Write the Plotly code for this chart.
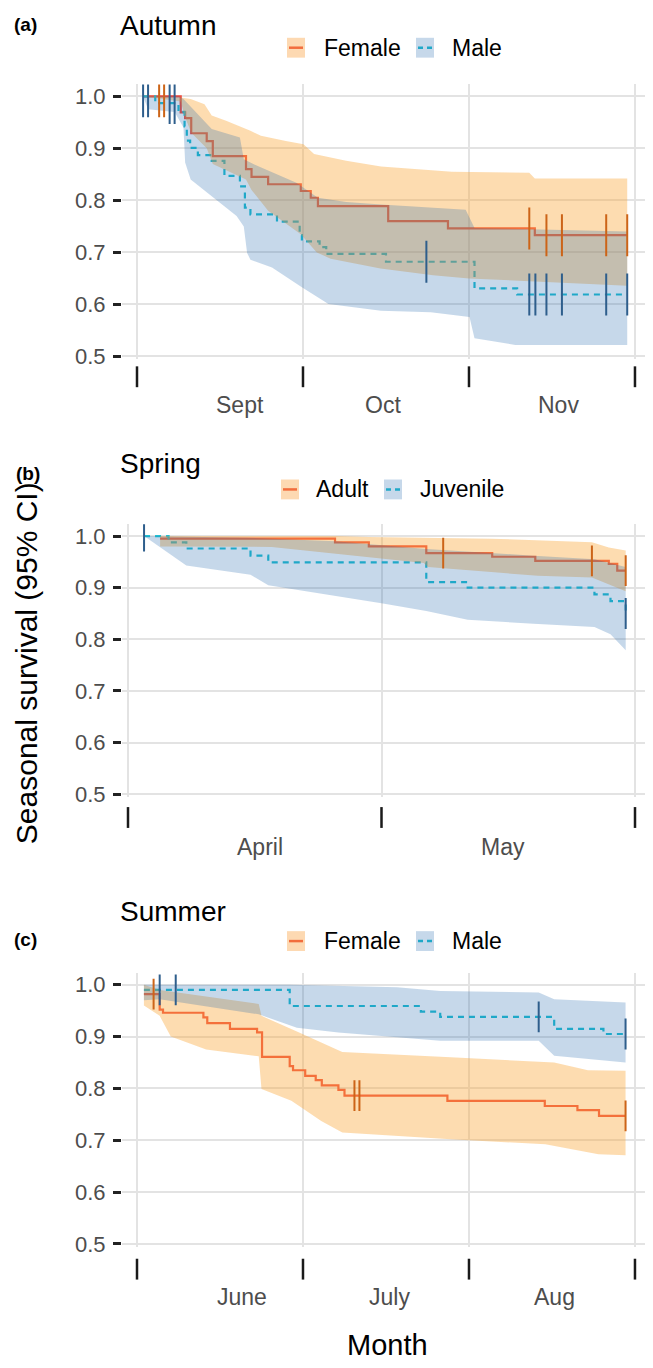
import plotly.graph_objects as go

# the page body has an 8px margin: the figure is offset by it
OFF = 8
W, H = 653 - OFF, 1368 - OFF

# ---------------- DATA ----------------
# (a) Autumn  - x in days from 1 Sept
aut_grid = [0, 30, 60, 90]
aut_months = ["Sept", "Oct", "Nov"]
aut_month_pos = [18.7, 44.4, 76.2]
aut_legend = ["Female", "Male"]
aut_f_t = [1.1, 7.9, 8.7, 9.8, 12.6, 13.7, 19.7, 20.7, 23.7, 29.6, 31.4, 32.7, 45.4, 56.2, 71.9, 88.6]
aut_f_s = [1.0, 0.969, 0.958, 0.929, 0.914, 0.885, 0.860, 0.845, 0.831, 0.818, 0.805, 0.789, 0.760, 0.746, 0.733, 0.733]
aut_m_t = [1.1, 3.3, 7.5, 8.6, 9.0, 9.6, 11.0, 13.5, 15.8, 18.6, 19.5, 20.5, 25.3, 29.4, 29.8, 33.0, 34.2, 45.0, 61.0, 68.7, 88.6]
aut_m_s = [1.0, 0.987, 0.970, 0.942, 0.915, 0.901, 0.887, 0.876, 0.847, 0.827, 0.786, 0.773, 0.759, 0.733, 0.721, 0.710, 0.697, 0.682, 0.631, 0.619, 0.619]
aut_f_up_t = [1.1, 7.9, 9.7, 12.2, 13.5, 16.1, 20.5, 22.4, 26.9, 30.1, 32.0, 37.8, 44.1, 50.5, 56.9, 70.9, 71.9, 88.6]
aut_f_up = [1.0, 0.998, 0.995, 0.985, 0.963, 0.953, 0.934, 0.924, 0.914, 0.908, 0.889, 0.876, 0.865, 0.860, 0.855, 0.853, 0.842, 0.842]
aut_f_lo_t = [1.1, 7.9, 8.7, 9.8, 12.6, 13.7, 19.7, 20.7, 23.7, 29.6, 32.5, 35.0, 44.0, 53.5, 60.0, 88.6]
aut_f_lo = [1.0, 0.990, 0.960, 0.930, 0.900, 0.870, 0.840, 0.820, 0.780, 0.735, 0.700, 0.688, 0.669, 0.656, 0.650, 0.636]
aut_m_up_t = [1.1, 7.5, 8.4, 13.5, 18.6, 19.3, 21.2, 28.8, 32.7, 37.8, 44.1, 59.4, 61.0, 88.6]
aut_m_up = [1.0, 1.0, 0.995, 0.937, 0.921, 0.879, 0.869, 0.834, 0.805, 0.797, 0.792, 0.782, 0.747, 0.740]
aut_m_lo_t = [1.1, 2.0, 6.8, 8.4, 8.7, 9.7, 13.5, 18.0, 19.3, 19.9, 20.5, 24.4, 29.8, 34.6, 44.1, 53.1, 60.1, 61.0, 68.4, 88.6]
aut_m_lo = [1.0, 0.975, 0.970, 0.940, 0.873, 0.840, 0.808, 0.770, 0.750, 0.699, 0.686, 0.671, 0.633, 0.601, 0.588, 0.585, 0.576, 0.535, 0.522, 0.522]
aut_f_cens_t = [4.0, 4.9, 70.9, 74.0, 76.8, 84.8, 88.6]
aut_f_cens_s = [1.0, 1.0, 0.746, 0.733, 0.733, 0.733, 0.733]
aut_m_cens_t = [1.1, 2.0, 5.9, 6.8, 52.3, 70.9, 72.0, 74.0, 76.8, 84.8, 88.6]
aut_m_cens_s = [1.0, 1.0, 0.987, 0.987, 0.682, 0.619, 0.619, 0.619, 0.619, 0.619, 0.619]

# (b) Spring - x in days from 1 April
spr_grid = [0, 30, 60]
spr_months = ["April", "May"]
spr_month_pos = [15.6, 44.4]
spr_legend = ["Adult", "Juvenile"]
spr_a_t = [3.8, 24.5, 28.5, 35.3, 43.1, 48.2, 56.9, 57.9, 58.9]
spr_a_s = [0.995, 0.988, 0.980, 0.967, 0.960, 0.952, 0.946, 0.933, 0.933]
spr_j_t = [1.9, 4.8, 6.9, 14.5, 16.6, 35.3, 40.2, 55.2, 57.1, 58.9]
spr_j_s = [1.0, 0.988, 0.976, 0.962, 0.949, 0.911, 0.900, 0.887, 0.874, 0.850]
spr_a_up_t = [3.8, 24.5, 28.5, 43.0, 54.9, 56.9, 58.9]
spr_a_up = [1.0, 1.0, 0.998, 0.995, 0.988, 0.978, 0.972]
spr_a_lo_t = [3.8, 17.0, 35.0, 35.5, 48.5, 54.9, 58.9]
spr_a_lo = [0.980, 0.979, 0.948, 0.940, 0.923, 0.920, 0.893]
spr_j_up_t = [1.9, 14.0, 24.5, 35.3, 48.0, 55.2, 58.9]
spr_j_up = [1.0, 0.997, 0.990, 0.975, 0.962, 0.955, 0.940]
spr_j_lo_t = [1.9, 6.9, 14.5, 16.6, 30.0, 35.3, 40.2, 48.0, 55.2, 57.1, 58.9]
spr_j_lo = [1.0, 0.943, 0.925, 0.905, 0.870, 0.855, 0.838, 0.830, 0.824, 0.810, 0.779]
spr_a_cens_t = [37.3, 54.9, 58.9]
spr_a_cens_s = [0.967, 0.952, 0.933]
spr_j_cens_t = [1.9, 58.9]
spr_j_cens_s = [1.0, 0.850]

# (c) Summer - x in days from 1 June
sum_grid = [0, 30, 60, 90]
sum_months = ["June", "July", "Aug"]
sum_month_pos = [18.9, 45.6, 75.4]
sum_legend = ["Female", "Male"]
sum_f_t = [1.25, 4.1, 4.7, 12.0, 12.7, 16.8, 21.7, 22.6, 27.6, 28.2, 30.4, 32.3, 33.4, 36.4, 37.5, 56.1, 73.7, 79.6, 83.5, 88.3]
sum_f_s = [0.982, 0.952, 0.946, 0.937, 0.926, 0.915, 0.908, 0.861, 0.843, 0.835, 0.824, 0.816, 0.806, 0.797, 0.786, 0.776, 0.766, 0.758, 0.747, 0.747]
sum_m_t = [1.25, 27.6, 51.3, 54.8, 75.4, 84.3, 88.3]
sum_m_s = [0.990, 0.959, 0.948, 0.938, 0.915, 0.905, 0.905]
sum_f_up_t = [1.25, 4.1, 22.0, 22.5, 28.9, 37.1, 56.7, 75.4, 81.5, 88.3]
sum_f_up = [1.0, 0.990, 0.963, 0.940, 0.910, 0.870, 0.860, 0.850, 0.835, 0.834]
sum_f_lo_t = [1.25, 4.1, 6.1, 12.5, 22.0, 22.5, 27.9, 33.3, 37.1, 56.7, 73.8, 83.4, 88.3]
sum_f_lo = [0.960, 0.940, 0.900, 0.875, 0.862, 0.799, 0.776, 0.737, 0.715, 0.702, 0.692, 0.673, 0.671]
sum_m_up_t = [1.25, 27.6, 47.0, 54.8, 72.6, 75.4, 88.3]
sum_m_up = [1.0, 1.0, 0.995, 0.988, 0.985, 0.972, 0.966]
sum_m_lo_t = [1.25, 4.1, 22.0, 28.9, 36.4, 54.8, 72.6, 75.4, 88.3]
sum_m_lo = [0.970, 0.972, 0.943, 0.917, 0.908, 0.892, 0.892, 0.863, 0.850]
sum_f_cens_t = [3.0, 39.3, 40.2, 88.3]
sum_f_cens_s = [0.982, 0.786, 0.786, 0.747]
sum_m_cens_t = [4.1, 7.0, 72.6, 88.3]
sum_m_cens_s = [0.990, 0.990, 0.938, 0.905]

y_ticks = [0.5, 0.6, 0.7, 0.8, 0.9, 1.0]

# ---------------- STYLE ----------------
FONT = "Liberation Sans, Arial, sans-serif"
C_OR_LINE = "#F04B3D"
C_BL_LINE = "#20BFD2"
C_OR_FILL = "rgba(250,167,58,0.40)"
C_BL_FILL = "rgba(27,99,171,0.25)"
C_OR_CENS = "#CC6418"
C_BL_CENS = "#2E5E8C"
C_OR_KEY = "#FDD9B2"
C_BL_KEY = "#C6D8EA"
GRID = "#E3E3E3"


def py(p):
    return 1 - (p - OFF) / H


def pxx(p):
    return (p - OFF) / W


X_LEFT, X_RIGHT = 122, 653

panels = [
    dict(title="Autumn", tag="(a)", data=(aut_f_t, aut_f_s, aut_m_t, aut_m_s, aut_f_up_t, aut_f_up, aut_f_lo_t, aut_f_lo,
                                          aut_m_up_t, aut_m_up, aut_m_lo_t, aut_m_lo, aut_f_cens_t, aut_f_cens_s, aut_m_cens_t, aut_m_cens_s),
         grid=aut_grid, months=aut_months, mpos=aut_month_pos, legend=aut_legend,
         g0=137, gpx=5.533, p1=97, p05=359, top=85, bottom=362, censz=30,
         title_y=26, tag_y=25, tag_x=25, leg_y=48, leg_x=(287, 322, 416, 450), bar=(369, 390), month_y=408),
    dict(title="Spring", tag="(b)", data=(spr_a_t, spr_a_s, spr_j_t, spr_j_s, spr_a_up_t, spr_a_up, spr_a_lo_t, spr_a_lo,
                                          spr_j_up_t, spr_j_up, spr_j_lo_t, spr_j_lo, spr_a_cens_t, spr_a_cens_s, spr_j_cens_t, spr_j_cens_s),
         grid=spr_grid, months=spr_months, mpos=spr_month_pos, legend=spr_legend,
         g0=128, gpx=8.45, p1=540, p05=800, top=528, bottom=803, censz=22,
         title_y=467, tag_y=477, tag_x=28, leg_y=493, leg_x=(281, 314, 384, 418), bar=(813, 834), month_y=853),
    dict(title="Summer", tag="(c)", data=(sum_f_t, sum_f_s, sum_m_t, sum_m_s, sum_f_up_t, sum_f_up, sum_f_lo_t, sum_f_lo,
                                          sum_m_up_t, sum_m_up, sum_m_lo_t, sum_m_lo, sum_f_cens_t, sum_f_cens_s, sum_m_cens_t, sum_m_cens_s),
         grid=sum_grid, months=sum_months, mpos=sum_month_pos, legend=sum_legend,
         g0=137, gpx=5.533, p1=992, p05=1253, top=980, bottom=1256, censz=22,
         title_y=918, tag_y=946, tag_x=25, leg_y=948, leg_x=(287, 322, 416, 450), bar=(1268, 1289), month_y=1307),
]

fig = go.Figure()
shapes = []
annotations = []
layout_axes = {}

for i, p in enumerate(panels, start=1):
    xa = "x" if i == 1 else f"x{i}"
    ya = "y" if i == 1 else f"y{i}"
    (f_t, f_s, m_t, m_s, fu_t, fu, fl_t, fl, mu_t, mu, ml_t, ml, fc_t, fc_s, mc_t, mc_s) = p["data"]

    # step lines (drawn under the translucent ribbons)
    fig.add_trace(go.Scatter(x=f_t, y=f_s, mode="lines", line=dict(color=C_OR_LINE, width=2.2, shape="hv"),
                             xaxis=xa, yaxis=ya, hoverinfo="skip"))
    fig.add_trace(go.Scatter(x=m_t, y=m_s, mode="lines", line=dict(color=C_BL_LINE, width=2.2, shape="hv", dash="6px,5px"),
                             xaxis=xa, yaxis=ya, hoverinfo="skip"))
    # ribbons
    fig.add_trace(go.Scatter(x=fu_t + fl_t[::-1], y=fu + fl[::-1], mode="lines", fill="toself",
                             fillcolor=C_OR_FILL, line=dict(width=0), xaxis=xa, yaxis=ya, hoverinfo="skip"))
    fig.add_trace(go.Scatter(x=mu_t + ml_t[::-1], y=mu + ml[::-1], mode="lines", fill="toself",
                             fillcolor=C_BL_FILL, line=dict(width=0), xaxis=xa, yaxis=ya, hoverinfo="skip"))
    # censor marks
    fig.add_trace(go.Scatter(x=fc_t, y=fc_s, mode="markers",
                             marker=dict(symbol="line-ns", size=p["censz"], line=dict(width=2, color=C_OR_CENS)),
                             xaxis=xa, yaxis=ya, hoverinfo="skip"))
    fig.add_trace(go.Scatter(x=mc_t, y=mc_s, mode="markers",
                             marker=dict(symbol="line-ns", size=p["censz"], line=dict(width=2, color=C_BL_CENS)),
                             xaxis=xa, yaxis=ya, hoverinfo="skip"))

    ppu = (p["p05"] - p["p1"]) / 0.5
    y_top = 1 + (p["p1"] - p["top"]) / ppu
    y_bot = 1 - (p["bottom"] - p["p1"]) / ppu
    x_lo = (X_LEFT - p["g0"]) / p["gpx"]
    x_hi = (X_RIGHT - p["g0"]) / p["gpx"]

    xkey = "xaxis" if i == 1 else f"xaxis{i}"
    ykey = "yaxis" if i == 1 else f"yaxis{i}"
    layout_axes[xkey] = dict(domain=[pxx(X_LEFT), min(1.0, pxx(X_RIGHT))], range=[x_lo, x_hi], anchor=ya,
                             tickvals=p["grid"], showticklabels=False, ticks="", showgrid=True,
                             gridcolor=GRID, gridwidth=2, zeroline=False, showline=False, fixedrange=True)
    layout_axes[ykey] = dict(domain=[py(p["bottom"]), py(p["top"])], range=[y_bot, y_top], anchor=xa,
                             tickvals=y_ticks, ticktext=[f"{v:.1f}" for v in y_ticks],
                             tickfont=dict(family=FONT, size=22, color="#4D4D4D"),
                             ticks="outside", ticklen=8, tickwidth=2.5, tickcolor="#222222",
                             ticklabelstandoff=3,
                             showgrid=True, gridcolor=GRID, gridwidth=2, zeroline=False, showline=False,
                             fixedrange=True)

    # "|" month-boundary marks below the panel
    for g in p["grid"]:
        shapes.append(dict(type="line", xref=xa, yref="paper", x0=g, x1=g,
                           y0=py(p["bar"][0]), y1=py(p["bar"][1]), line=dict(color="#1A1A1A", width=2.5)))
    # month labels
    for name, pos in zip(p["months"], p["mpos"]):
        annotations.append(dict(text=name, xref=xa, yref="paper", x=pos, y=py(p["month_y"]),
                                showarrow=False, xanchor="center", yanchor="middle",
                                font=dict(family=FONT, size=23, color="#4D4D4D")))
    # panel title and tag
    annotations.append(dict(text=p["title"], xref="paper", yref="paper", x=pxx(119), y=py(p["title_y"]),
                            showarrow=False, xanchor="left", yanchor="middle", borderpad=0,
                            font=dict(family=FONT, size=28, color="#000000")))
    annotations.append(dict(text="<b>" + p["tag"] + "</b>", xref="paper", yref="paper", x=pxx(p["tag_x"]),
                            y=py(p["tag_y"]), showarrow=False, xanchor="center", yanchor="middle",
                            font=dict(family=FONT, size=19, color="#000000")))
    # legend (keys drawn as small boxes with line samples)
    k1, t1, k2, t2 = p["leg_x"]
    ly = p["leg_y"]
    kw, kh = 18, 20
    shapes.append(dict(type="rect", xref="paper", yref="paper", x0=pxx(k1), x1=pxx(k1 + kw),
                       y0=py(ly + kh / 2), y1=py(ly - kh / 2), fillcolor=C_OR_KEY, line=dict(width=0)))
    shapes.append(dict(type="line", xref="paper", yref="paper", x0=pxx(k1 + 2), x1=pxx(k1 + kw - 2),
                       y0=py(ly), y1=py(ly), line=dict(color="#F26D3D", width=2.5)))
    shapes.append(dict(type="rect", xref="paper", yref="paper", x0=pxx(k2), x1=pxx(k2 + kw),
                       y0=py(ly + kh / 2), y1=py(ly - kh / 2), fillcolor=C_BL_KEY, line=dict(width=0)))
    shapes.append(dict(type="line", xref="paper", yref="paper", x0=pxx(k2 + 2), x1=pxx(k2 + kw - 2),
                       y0=py(ly), y1=py(ly), line=dict(color="#1FA8C8", width=2.5, dash="5px,4px")))
    annotations.append(dict(text=p["legend"][0], xref="paper", yref="paper", x=pxx(t1), y=py(ly),
                            showarrow=False, xanchor="left", yanchor="middle",
                            font=dict(family=FONT, size=23, color="#000000")))
    annotations.append(dict(text=p["legend"][1], xref="paper", yref="paper", x=pxx(t2), y=py(ly),
                            showarrow=False, xanchor="left", yanchor="middle",
                            font=dict(family=FONT, size=23, color="#000000")))

# shared axis titles
annotations.append(dict(text="Seasonal survival (95% CI)", xref="paper", yref="paper", x=pxx(26), y=py(668),
                        showarrow=False, textangle=-90, xanchor="center", yanchor="middle",
                        font=dict(family=FONT, size=30, color="#000000")))
annotations.append(dict(text="Month", xref="paper", yref="paper", x=pxx(387), y=py(1355),
                        showarrow=False, xanchor="center", yanchor="middle", borderpad=0,
                        font=dict(family=FONT, size=29, color="#000000")))

fig.update_layout(width=W, height=H, autosize=False, margin=dict(l=0, r=0, t=0, b=0),
                  paper_bgcolor="white", plot_bgcolor="white", showlegend=False, hovermode=False,
                  shapes=shapes, annotations=annotations, **layout_axes)

fig.write_html("out.html", config={"displayModeBar": False})
